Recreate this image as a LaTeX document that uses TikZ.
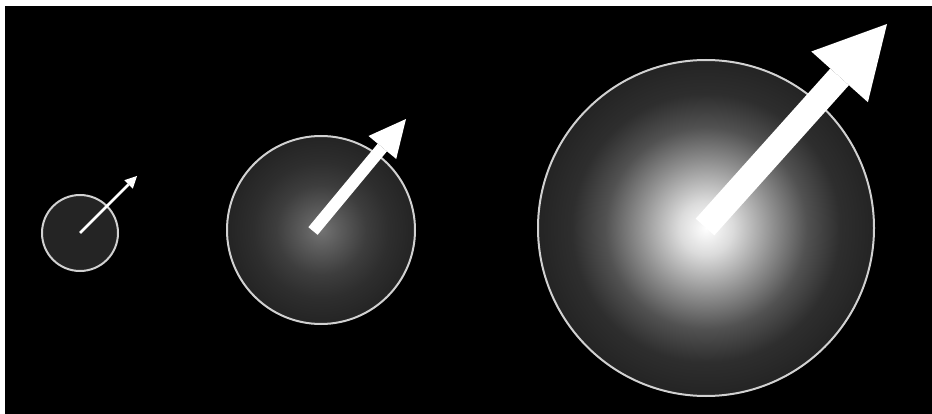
\documentclass[tikz,border=0pt]{standalone}
\usepackage{tikz}
\usetikzlibrary{arrows.meta}
\definecolor{disc}{gray}{0.14}
\definecolor{rim}{gray}{0.82}
\definecolor{glowA}{gray}{0.45}
\definecolor{glowB}{gray}{0.36}
\definecolor{glowC}{gray}{0.24}
\definecolor{glowD}{gray}{0.18}
\definecolor{glowE}{gray}{0.86}
\definecolor{glowF}{gray}{0.56}
\definecolor{glowG}{gray}{0.32}
% the path box is 50bp wide, so the rim sits at 25bp
\pgfdeclareradialshading{glowmid}{\pgfpoint{0bp}{0bp}}
	{color(0bp)=(glowA); color(5bp)=(glowB); color(12bp)=(glowC); color(18bp)=(glowD); color(25bp)=(disc); color(50bp)=(disc)}
\pgfdeclareradialshading{glowbig}{\pgfpoint{0bp}{0bp}}
	{color(0bp)=(white); color(4bp)=(glowE); color(10bp)=(glowF); color(15bp)=(glowG); color(20bp)=(glowD); color(25bp)=(disc); color(50bp)=(disc)}
\tikzset{
	rimline/.style={draw=rim, line width=2pt},
	spin/.style={draw=white, line cap=butt}
}

\begin{document}
\begin{tikzpicture}[x=1pt,y=-1pt]
		% Frame
		\fill[white] (0,0) rectangle (932,414);
		\fill[black] (5,6) rectangle (932,414);
		% Centres and tips
		\coordinate (c1) at (80,233);
		\coordinate (c2) at (321,230);
		\coordinate (c3) at (706,228);
		\coordinate (t1) at (80,233);
		\coordinate (h1) at (137,176);
		\coordinate (t2) at (313,231);
		\coordinate (h2) at (406,119);
		\coordinate (t3) at (705,227);
		\coordinate (h3) at (887,24);
		% Small disc
		\fill[disc] (c1) circle[radius=38pt];
		\draw[rimline] (c1) circle[radius=38pt];
		% Middle disc
		\shade[shading=glowmid] (c2) circle[radius=94pt];
		\draw[rimline] (c2) circle[radius=94pt];
		% Big disc
		\shade[shading=glowbig] (c3) circle[radius=168pt];
		\draw[rimline] (c3) circle[radius=168pt];
		% Arrows
		\draw[spin, line width=2.5pt, -{Triangle[length=12pt,width=12pt,line width=0pt,fill=white]}] (t1) -- (h1);
		\draw[spin, line width=12pt, -{Triangle[length=37pt,width=36pt,line width=0pt,fill=white]}] (t2) -- (h2);
		\draw[spin, line width=25pt, -{Triangle[length=71pt,width=76pt,line width=0pt,fill=white]}] (t3) -- (h3);
	\end{tikzpicture}
\end{document}
